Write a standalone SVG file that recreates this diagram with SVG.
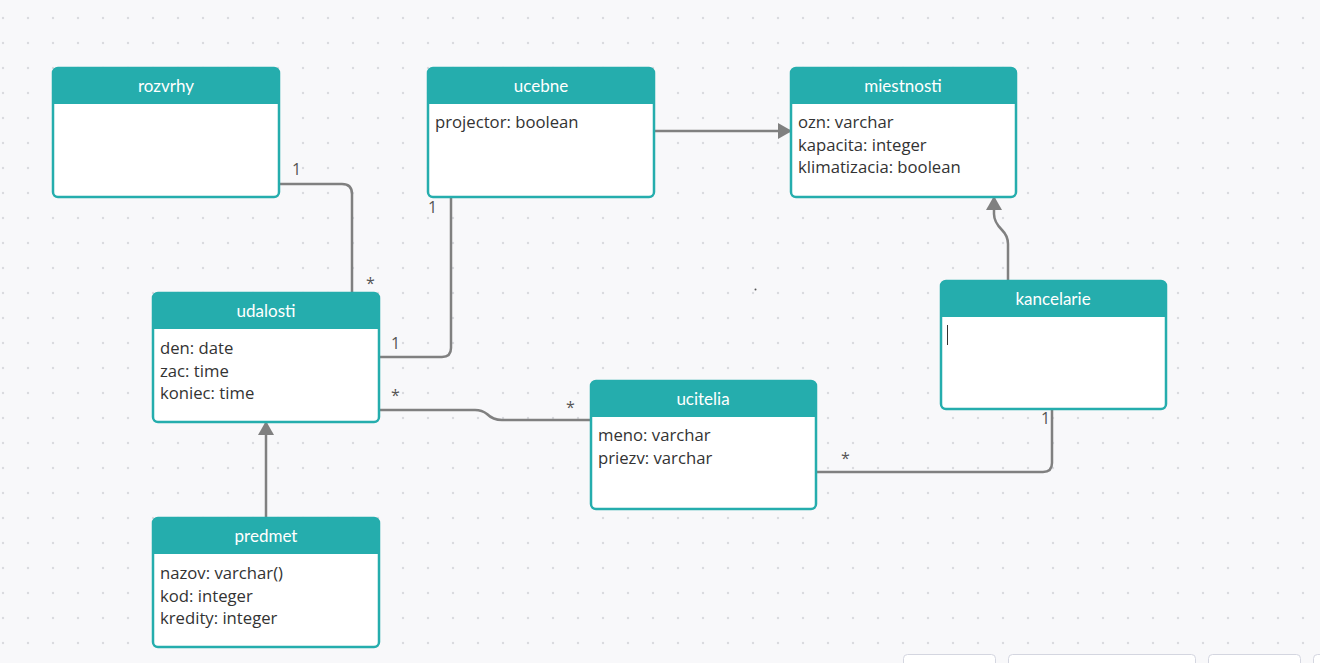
<svg xmlns="http://www.w3.org/2000/svg" width="1320" height="663" viewBox="0 0 1320 663">
  <defs>
    <pattern id="dots" x="3" y="18" width="25" height="25" patternUnits="userSpaceOnUse">
      <circle cx="0" cy="0" r="1.2" fill="#d9dadf"/>
      <circle cx="25" cy="0" r="1.2" fill="#d9dadf"/>
      <circle cx="0" cy="25" r="1.2" fill="#d9dadf"/>
      <circle cx="25" cy="25" r="1.2" fill="#d9dadf"/>
    </pattern>
    <marker id="arrow" viewBox="0 0 14 16" refX="13" refY="8" markerWidth="14" markerHeight="16" markerUnits="userSpaceOnUse" orient="auto">
      <path d="M0,0 L14,8 L0,16 Z" fill="#808080"/>
    </marker>
  </defs>
  <style>
    .frame { fill: #ffffff; stroke: #25adad; stroke-width: 2.5; }
    .head { fill: #25adad; }
    .title { font-family: Lato, "Open Sans", sans-serif; font-size: 17px; fill: #ffffff; text-anchor: middle; }
    .attr { font-family: "Open Sans", Lato, sans-serif; font-size: 16.7px; fill: #333333; }
    .link { fill: none; stroke: #808080; stroke-width: 2.5; }
    .mult { font-family: "Open Sans", sans-serif; font-size: 16px; fill: #555555; }
    .tab { fill: #ffffff; stroke: #d4d6e0; stroke-width: 1; }
  </style>

  <rect width="1320" height="663" fill="#f8f8fa"/>
  <rect width="1320" height="663" fill="url(#dots)"/>

  <!-- connectors -->
  <g id="connectors">
    <path class="link" d="M279,184 H342 Q352,184 352,194 V293"/>
    <path class="link" d="M451,197 V348 Q451,357 442,357 H379"/>
    <path class="link" d="M379,410 H475 Q482,410 487,414 Q493,420 502,420 H591"/>
    <path class="link" d="M816,472 H1043 Q1052,472 1052,463 V409"/>
    <path class="link" d="M654,131 H791" marker-end="url(#arrow)"/>
    <path class="link" d="M1008,281 V244 Q1008,236 1002,230 Q994,222 994,214 V197" marker-end="url(#arrow)"/>
    <path class="link" d="M266,518 V422" marker-end="url(#arrow)"/>
    <text class="mult" x="292" y="175">1</text>
    <text class="mult" x="366" y="289">*</text>
    <text class="mult" x="428" y="213">1</text>
    <text class="mult" x="391" y="349">1</text>
    <text class="mult" x="391" y="401">*</text>
    <text class="mult" x="566" y="413">*</text>
    <text class="mult" x="841" y="464">*</text>
    <text class="mult" x="1041" y="424">1</text>
  </g>

  <g id="rozvrhy">
    <rect class="frame" x="53" y="68" width="226" height="129" rx="5"/>
    <path class="head" d="M53,104 V73 Q53,68 58,68 H274 Q279,68 279,73 V104 Z"/>
    <text class="title" x="166" y="92">rozvrhy</text>
  </g>

  <g id="ucebne">
    <rect class="frame" x="428" y="68" width="226" height="129" rx="5"/>
    <path class="head" d="M428,104 V73 Q428,68 433,68 H649 Q654,68 654,73 V104 Z"/>
    <text class="title" x="541" y="92">ucebne</text>
    <text class="attr" x="435" y="128">projector: boolean</text>
  </g>

  <g id="miestnosti">
    <rect class="frame" x="791" y="68" width="225" height="129" rx="5"/>
    <path class="head" d="M791,104 V73 Q791,68 796,68 H1011 Q1016,68 1016,73 V104 Z"/>
    <text class="title" x="903" y="92">miestnosti</text>
    <text class="attr" x="798" y="128">ozn: varchar</text>
    <text class="attr" x="798" y="150.5">kapacita: integer</text>
    <text class="attr" x="798" y="173">klimatizacia: boolean</text>
  </g>

  <g id="udalosti">
    <rect class="frame" x="153" y="293" width="226" height="129" rx="5"/>
    <path class="head" d="M153,329 V298 Q153,293 158,293 H374 Q379,293 379,298 V329 Z"/>
    <text class="title" x="266" y="317">udalosti</text>
    <text class="attr" x="160" y="354">den: date</text>
    <text class="attr" x="160" y="376.5">zac: time</text>
    <text class="attr" x="160" y="399">koniec: time</text>
  </g>

  <g id="kancelarie">
    <rect class="frame" x="941" y="281" width="225" height="128" rx="5"/>
    <path class="head" d="M941,317 V286 Q941,281 946,281 H1161 Q1166,281 1166,286 V317 Z"/>
    <text class="title" x="1053" y="305">kancelarie</text>
    <line x1="947.5" y1="325" x2="947.5" y2="345" stroke="#333333" stroke-width="1"/>
  </g>

  <g id="ucitelia">
    <rect class="frame" x="591" y="381" width="225" height="128" rx="5"/>
    <path class="head" d="M591,417 V386 Q591,381 596,381 H811 Q816,381 816,386 V417 Z"/>
    <text class="title" x="703" y="405">ucitelia</text>
    <text class="attr" x="598" y="441">meno: varchar</text>
    <text class="attr" x="598" y="463.5">priezv: varchar</text>
  </g>

  <g id="predmet">
    <rect class="frame" x="153" y="518" width="226" height="129" rx="5"/>
    <path class="head" d="M153,554 V523 Q153,518 158,518 H374 Q379,518 379,523 V554 Z"/>
    <text class="title" x="266" y="542">predmet</text>
    <text class="attr" x="160" y="579">nazov: varchar()</text>
    <text class="attr" x="160" y="601.5">kod: integer</text>
    <text class="attr" x="160" y="624">kredity: integer</text>
  </g>

  <!-- stray point on the canvas -->
  <circle cx="755.5" cy="289.5" r="1" fill="#555555"/>

  <!-- toolbar tabs along the bottom edge -->
  <rect class="tab" x="903.5" y="654.5" width="92" height="20" rx="4"/>
  <rect class="tab" x="1008.5" y="654.5" width="187" height="20" rx="4"/>
  <rect class="tab" x="1208.5" y="654.5" width="92" height="20" rx="4"/>
  <rect class="tab" x="1313.5" y="654.5" width="20" height="20" rx="4"/>
</svg>
